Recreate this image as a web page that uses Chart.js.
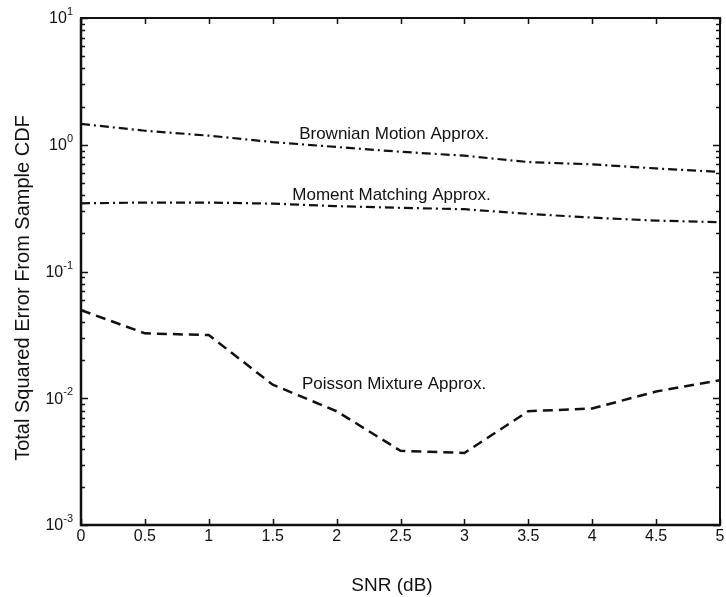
<!DOCTYPE html>
<html>
<head>
<meta charset="utf-8">
<script src="https://cdn.jsdelivr.net/npm/chart.js@4/dist/chart.umd.min.js"></script>
<style>
  html, body { margin: 0; padding: 0; background: #fff; }
  #wrap { width: 726px; height: 597px; position: relative; }
</style>
</head>
<body>
<div id="wrap"><canvas id="chartErr"></canvas></div>
<script>
(function () {
    // SNR grid (dB) and total squared error for each approximation
    const snr = [0, 0.5, 1, 1.5, 2, 2.5, 3, 3.5, 4, 4.5, 5];
    const brownian = [1.46, 1.29, 1.18, 1.05, 0.96, 0.88, 0.82, 0.73, 0.70, 0.65, 0.61];
    const moment = [0.345, 0.35, 0.35, 0.343, 0.328, 0.318, 0.31, 0.285, 0.266, 0.252, 0.245];
    const poisson = [0.0496, 0.0325, 0.0315, 0.0128, 0.0079, 0.00385, 0.0037, 0.0079, 0.0083, 0.0113, 0.0139];

    const xTicks = [0, 0.5, 1, 1.5, 2, 2.5, 3, 3.5, 4, 4.5, 5];
    const yExponents = [1, 0, -1, -2, -3];

    // curve labels, placed in data space (x in dB, y in error units)
    const curveLabels = [
        { text: 'Brownian Motion Approx.', x: 2.45, y: 1.2 },
        { text: 'Moment Matching Approx.', x: 2.43, y: 0.40 },
        { text: 'Poisson Mixture Approx.', x: 2.45, y: 0.0129 }
    ];

    const FONT = '"Liberation Sans", Arial, Helvetica, sans-serif';
    const INK = '#111';

    const pts = ys => snr.map((x, i) => ({ x: x, y: ys[i] }));

    // frame, inward ticks, tick labels, axis titles and curve labels
    const axesPlugin = {
        id: 'matlabAxes',
        afterDatasetsDraw(chart) {
            const { ctx, chartArea: a, scales } = chart;
            const xs = scales.x, ys = scales.y;
            ctx.save();
            ctx.strokeStyle = INK;
            ctx.fillStyle = INK;

            // box, left/bottom a bit heavier
            ctx.lineWidth = 2;
            ctx.strokeRect(a.left, a.top, a.right - a.left, a.bottom - a.top);
            ctx.lineWidth = 2.5;
            ctx.beginPath();
            ctx.moveTo(a.left, a.top); ctx.lineTo(a.left, a.bottom); ctx.lineTo(a.right, a.bottom);
            ctx.stroke();

            // x ticks top and bottom
            ctx.lineWidth = 1.5;
            ctx.beginPath();
            xTicks.forEach(v => {
                const px = Math.round(xs.getPixelForValue(v)) + 0.5;
                ctx.moveTo(px, a.bottom); ctx.lineTo(px, a.bottom - 6);
                ctx.moveTo(px, a.top); ctx.lineTo(px, a.top + 6);
            });
            ctx.stroke();

            // y ticks: majors at decades, minors at 2..9
            ctx.beginPath();
            for (let e = -3; e <= 1; e++) {
                const py = Math.round(ys.getPixelForValue(Math.pow(10, e))) + 0.5;
                ctx.moveTo(a.left, py); ctx.lineTo(a.left + 7, py);
                ctx.moveTo(a.right, py); ctx.lineTo(a.right - 7, py);
                if (e === 1) continue;
                for (let m = 2; m <= 9; m++) {
                    const q = Math.round(ys.getPixelForValue(m * Math.pow(10, e))) + 0.5;
                    ctx.moveTo(a.left, q); ctx.lineTo(a.left + 4, q);
                    ctx.moveTo(a.right, q); ctx.lineTo(a.right - 4, q);
                }
            }
            ctx.stroke();

            // x tick labels
            ctx.font = '16px ' + FONT;
            ctx.textAlign = 'center';
            ctx.textBaseline = 'middle';
            xTicks.forEach(v => {
                ctx.fillText(String(v), xs.getPixelForValue(v), a.bottom + 12);
            });

            // y tick labels as 10 with raised exponent
            yExponents.forEach(e => {
                const py = ys.getPixelForValue(Math.pow(10, e));
                const exp = String(e);
                ctx.font = '11px ' + FONT;
                const ew = ctx.measureText(exp).width;
                ctx.textAlign = 'left';
                ctx.textBaseline = 'middle';
                const right = a.left - 8;
                ctx.fillText(exp, right - ew, py - 6);
                ctx.font = '16px ' + FONT;
                ctx.textAlign = 'right';
                ctx.fillText('10', right - ew, py + 1);
            });

            // axis titles
            ctx.font = '19px ' + FONT;
            ctx.textAlign = 'center';
            ctx.textBaseline = 'middle';
            ctx.fillText('SNR (dB)', 392, a.bottom + 61);
            ctx.save();
            ctx.font = '20px ' + FONT;
            ctx.translate(23, 288);
            ctx.rotate(-Math.PI / 2);
            ctx.fillText('Total Squared Error From Sample CDF', 0, 0);
            ctx.restore();

            // curve labels
            ctx.font = '17px ' + FONT;
            curveLabels.forEach(l => {
                ctx.fillText(l.text, xs.getPixelForValue(l.x), ys.getPixelForValue(l.y));
            });
            ctx.restore();
        }
    };

    const cv = document.getElementById('chartErr');
    new Chart(cv.getContext('2d'), {
        type: 'line',
        data: {
            datasets: [
                { label: 'Brownian Motion Approx.', data: pts(brownian), borderColor: INK, borderWidth: 2.2, borderDash: [9, 4, 2, 4] },
                { label: 'Moment Matching Approx.', data: pts(moment), borderColor: INK, borderWidth: 2.2, borderDash: [9, 4, 2, 4] },
                { label: 'Poisson Mixture Approx.', data: pts(poisson), borderColor: INK, borderWidth: 2.5, borderDash: [10, 6] }
            ]
        },
        options: {
            responsive: true,
            maintainAspectRatio: false,
            animation: false,
            devicePixelRatio: 1,
            layout: { padding: { left: 81, top: 18, right: 6, bottom: 72 } },
            elements: { point: { radius: 0 }, line: { tension: 0, fill: false } },
            scales: {
                x: { type: 'linear', min: 0, max: 5, display: false },
                y: { type: 'logarithmic', min: 0.001, max: 10, display: false }
            },
            plugins: { legend: { display: false }, tooltip: { enabled: false } }
        },
        plugins: [axesPlugin]
    });
})();
</script>
</body>
</html>
